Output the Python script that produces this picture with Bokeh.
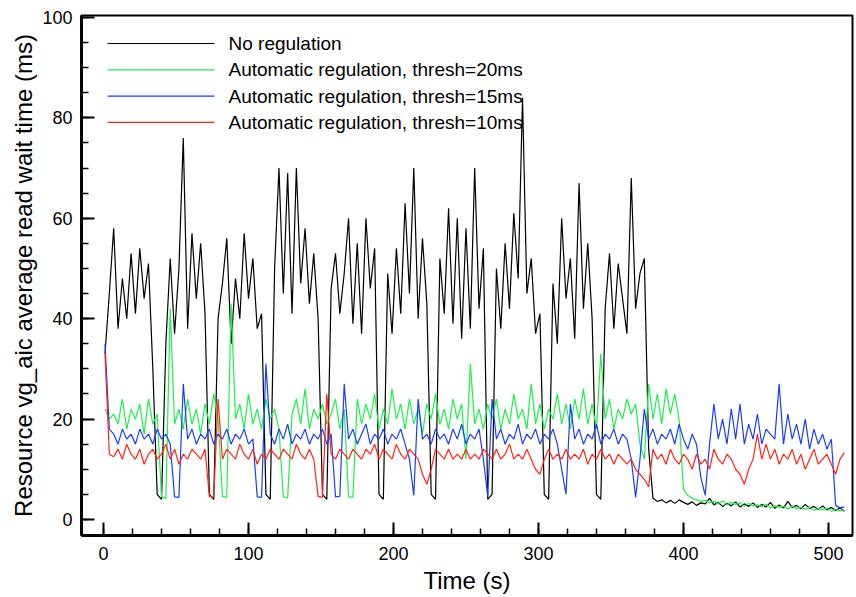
from bokeh.plotting import figure
from bokeh.models import SingleIntervalTicker, Range1d, BoxAnnotation, Label
from bokeh.embed import file_html
from bokeh.resources import INLINE

# sample times (s)
TIME = list(range(1, 512, 3))

SERIES_NAMES = [
    "No regulation",
    "Automatic regulation, thresh=20ms",
    "Automatic regulation, thresh=15ms",
    "Automatic regulation, thresh=10ms",
]

NO_REG = [
    33, 45, 58, 38, 48, 40, 53, 41, 54, 44,
    51, 30, 5, 4, 35, 52, 37, 50, 76, 38,
    57, 44, 55, 41, 5, 4, 40, 47, 56, 35,
    48, 40, 57, 44, 52, 38, 41, 5, 4, 50,
    70, 45, 69, 41, 70, 47, 58, 43, 53, 40,
    5, 4, 46, 53, 41, 49, 60, 39, 55, 37,
    60, 46, 54, 5, 4, 49, 37, 54, 41, 63,
    45, 70, 40, 56, 43, 5, 4, 52, 41, 62,
    39, 60, 36, 58, 38, 70, 42, 54, 4, 5,
    50, 38, 55, 42, 61, 48, 84, 45, 52, 37,
    41, 5, 4, 47, 35, 60, 44, 52, 36, 67,
    42, 55, 40, 5, 4, 42, 53, 38, 51, 44,
    37, 68, 42, 49, 52, 14, 4.2, 3.6, 3.9, 3.3,
    3.8, 3.2, 3.9, 3.4, 3.0, 3.5, 2.8, 3.3, 3.1, 4.2,
    2.9, 3.4, 2.6, 3.2, 2.7, 3.5, 2.5, 3.1, 2.6, 3.3,
    2.4, 3.0, 2.5, 3.4, 2.2, 2.9, 2.3, 3.6, 2.4, 2.8,
    2.1, 3.0, 2.2, 2.6, 2.0, 2.7, 1.9, 2.4, 1.8, 2.3,
    1.6,
]

THRESH_20 = [
    22, 20, 21, 19, 24, 18, 22, 20, 23, 17,
    24, 19, 21, 4.5, 4.2, 42, 19, 22, 18, 24,
    19, 22, 17, 23, 19, 25, 20, 4.6, 4.4, 43,
    20, 23, 18, 25, 19, 22, 18, 24, 20, 22,
    18, 4.5, 4.3, 21, 24, 19, 26, 18, 22, 20,
    23, 19, 21, 24, 18, 22, 4.5, 4.4, 24, 19,
    23, 20, 25, 18, 22, 19, 26, 20, 23, 18,
    24, 19, 22, 17, 23, 20, 25, 19, 22, 18,
    24, 20, 23, 12, 31, 19, 22, 18, 23, 20,
    24, 18, 22, 19, 25, 20, 22, 18, 27, 19,
    23, 18, 22, 20, 25, 19, 23, 18, 24, 20,
    26, 19, 23, 18, 33, 20, 24, 18, 22, 20,
    24, 21, 23, 15, 12, 27, 20, 25, 19, 26,
    21, 25, 20, 6, 4.8, 4.2, 3.9, 3.6, 3.8, 3.3,
    3.6, 3.1, 3.7, 2.9, 3.4, 3.0, 3.3, 2.6, 3.2, 2.7,
    2.9, 2.5, 3.1, 2.3, 2.8, 2.4, 2.6, 2.1, 2.7, 2.2,
    2.4, 2.0, 2.5, 1.8, 2.2, 1.9, 2.3, 1.6, 2.0, 1.7,
    1.9,
]

THRESH_15 = [
    35, 18, 17, 15, 18, 16, 17, 15, 18, 16,
    17, 15, 18, 16, 17, 15, 4.5, 4.4, 27, 16,
    18, 15, 17, 16, 18, 15, 17, 16, 18, 15,
    17, 16, 18, 15, 16, 4.5, 4.4, 31, 17, 15,
    18, 16, 19, 15, 17, 16, 18, 15, 17, 16,
    18, 15, 17, 4.5, 4.6, 27, 16, 18, 15, 17,
    19, 15, 17, 16, 18, 15, 17, 16, 18, 15,
    12, 4.8, 24, 16, 17, 15, 18, 16, 17, 15,
    18, 16, 19, 15, 17, 16, 18, 12, 4.6, 24,
    16, 18, 15, 17, 16, 19, 15, 17, 16, 18,
    15, 17, 16, 18, 15, 10, 5, 23, 16, 18,
    15, 17, 16, 19, 15, 17, 16, 18, 15, 17,
    16, 12, 4.4, 12, 22, 16, 18, 15, 17, 16,
    18, 15, 19, 16, 14, 17, 15, 8.4, 4.8, 15,
    23, 16, 20, 15, 22, 16, 23, 15, 19, 16,
    21, 15, 18, 17, 16, 27, 15, 21, 16, 19,
    15, 20, 14, 18, 15, 17, 14, 16, 2.8, 2.3,
    2.5,
]

THRESH_10 = [
    33, 13, 12.5, 14, 12, 15, 13, 12, 14, 11,
    13, 14, 12, 13, 15, 12, 14, 11, 13, 12,
    14, 13, 12, 14, 4.6, 4.4, 24, 12, 14, 13,
    12, 15, 13, 12, 14, 11, 13, 12, 14, 13,
    12, 14, 13, 12, 15, 13, 12, 14, 12, 4.6,
    4.4, 25, 13, 12, 14, 13, 12, 14, 13, 12,
    14, 13, 15, 12, 14, 13, 12, 15, 13, 12,
    14, 13, 12, 9, 7, 10, 14, 13, 12, 14,
    12, 13, 12, 14, 12, 13, 12, 14, 13, 12,
    14, 12, 13, 15, 12, 13, 12, 14, 12, 10,
    9, 12, 14, 12, 13, 12, 14, 12, 13, 12,
    14, 11, 13, 12, 14, 12, 13, 11, 13, 12,
    11, 12, 10, 9, 8, 6.5, 14, 12, 13, 11,
    14, 12, 11, 13, 12, 10, 13, 11, 12, 10,
    14, 12, 11, 13, 12, 10, 9, 7, 10, 12,
    17, 12, 15, 12, 14, 11, 13, 12, 14, 11,
    13, 10, 12, 14, 11, 12, 13, 11, 9, 12,
    13.3,
]

COLORS = ["#000000", "#1ef04a", "#1a3cff", "#ff2414"]
FONT = "Liberation Sans"

FRAME_W, FRAME_H = 771, 520

p = figure(
    frame_width=FRAME_W, frame_height=FRAME_H,
    min_border_left=81, min_border_right=4, min_border_top=15, min_border_bottom=62,
    x_range=Range1d(-15.2, 516.6), y_range=Range1d(-3.2, 100.4),
    output_backend="svg", toolbar_location=None,
    background_fill_color="white", border_fill_color="white",
)

for ys, c in zip([NO_REG, THRESH_20, THRESH_15, THRESH_10], COLORS):
    p.line(TIME, ys, line_color=c, line_width=1.2)

# key: sample line + text for each series (screen units, from frame bottom-left)
KEY_X0, KEY_X1, KEY_TEXT_X = 26, 133, 147
for i, (name, c) in enumerate(zip(SERIES_NAMES, COLORS)):
    yc = FRAME_H - 28 - 26.3 * i
    p.add_layout(BoxAnnotation(
        left=KEY_X0, right=KEY_X1, bottom=yc - 0.6, top=yc + 0.6,
        left_units="screen", right_units="screen",
        bottom_units="screen", top_units="screen",
        fill_color=c, fill_alpha=1.0, line_color=None,
    ))
    p.add_layout(Label(
        x=KEY_TEXT_X, y=yc, x_units="screen", y_units="screen",
        text=name, text_baseline="middle", text_align="left",
        text_font=FONT, text_font_size="19px", text_color="black",
    ))

p.xaxis.ticker = SingleIntervalTicker(interval=100, num_minor_ticks=5)
p.yaxis.ticker = SingleIntervalTicker(interval=20, num_minor_ticks=4)
p.xaxis.axis_label = "Time (s)"
p.yaxis.axis_label = "Resource vg_aic average read wait time (ms)"

for ax in (p.xaxis, p.yaxis):
    ax.major_tick_in = 13
    ax.major_tick_out = 0
    ax.minor_tick_in = 7
    ax.minor_tick_out = 0
    ax.axis_line_width = 3
    ax.axis_line_color = "black"
    ax.major_tick_line_width = 2
    ax.major_tick_line_color = "black"
    ax.minor_tick_line_width = 1.5
    ax.minor_tick_line_color = "black"
    ax.major_label_text_font = FONT
    ax.major_label_text_font_size = "18px"
    ax.major_label_text_color = "black"
    ax.axis_label_text_font = FONT
    ax.axis_label_text_font_size = "24px"
    ax.axis_label_text_font_style = "normal"
    ax.axis_label_text_color = "black"

p.xaxis.major_label_standoff = 11
p.xaxis.axis_label_standoff = 4
p.yaxis.major_label_standoff = 9
p.yaxis.axis_label_standoff = 2

p.grid.visible = False
p.outline_line_color = "black"
p.outline_line_width = 2

open("out.html", "w").write(file_html(p, INLINE))
